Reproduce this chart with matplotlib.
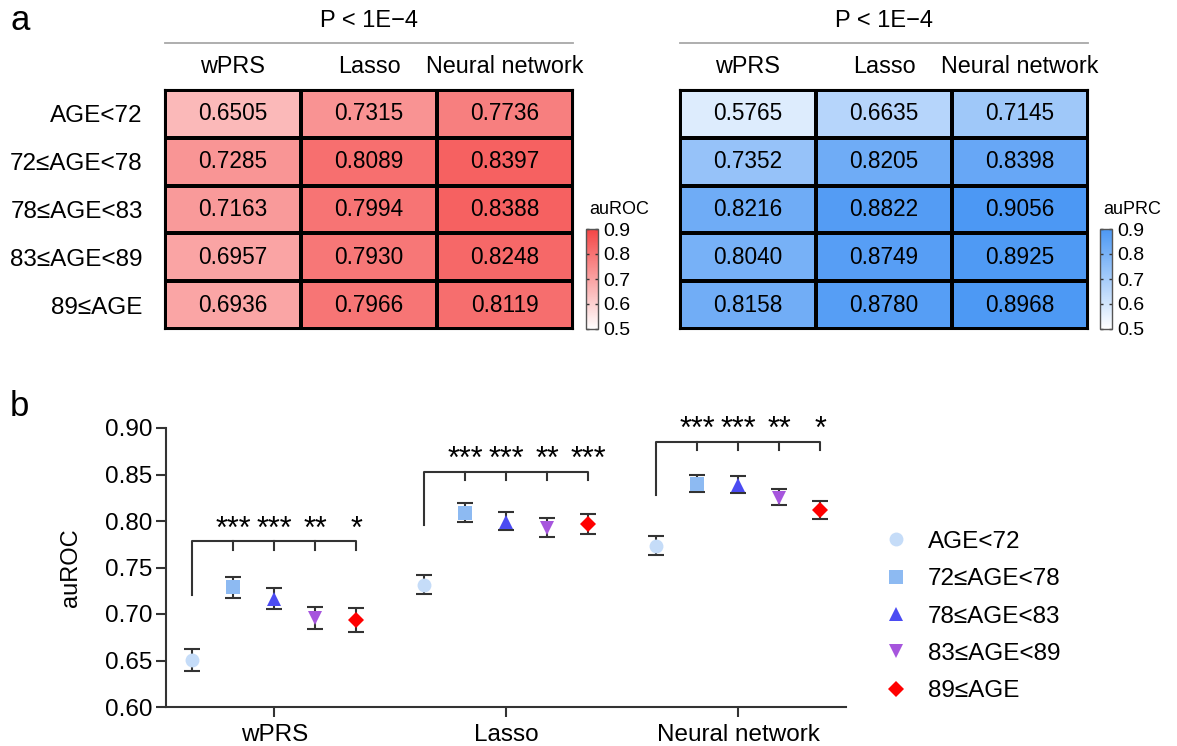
import matplotlib

matplotlib.use("Agg")

import matplotlib.pyplot as plt
import numpy as np
from matplotlib.colors import LinearSegmentedColormap
from matplotlib.lines import Line2D

plt.rcParams["font.family"] = ["Liberation Sans", "DejaVu Sans"]

GROUPS = ["AGE<72", "72≤AGE<78", "78≤AGE<83", "83≤AGE<89", "89≤AGE"]
MODELS = ["wPRS", "Lasso", "Neural network"]

# rows = age groups, columns = models
AUROC = [
    [0.6505, 0.7315, 0.7736],
    [0.7285, 0.8089, 0.8397],
    [0.7163, 0.7994, 0.8388],
    [0.6957, 0.7930, 0.8248],
    [0.6936, 0.7966, 0.8119],
]
AUPRC = [
    [0.5765, 0.6635, 0.7145],
    [0.7352, 0.8205, 0.8398],
    [0.8216, 0.8822, 0.9056],
    [0.8040, 0.8749, 0.8925],
    [0.8158, 0.8780, 0.8968],
]
HEAT_P = "P < 1E−4"

# error bar ends in panel b (rows = age groups, columns = models)
ERR_LO = [
    [0.639, 0.721, 0.763],
    [0.717, 0.799, 0.831],
    [0.705, 0.790, 0.830],
    [0.684, 0.783, 0.817],
    [0.681, 0.786, 0.802],
]
ERR_HI = [
    [0.662, 0.742, 0.784],
    [0.740, 0.819, 0.849],
    [0.728, 0.810, 0.848],
    [0.707, 0.803, 0.834],
    [0.706, 0.808, 0.822],
]
STARS = [
    ["***", "***", "**", "*"],
    ["***", "***", "**", "***"],
    ["***", "***", "**", "*"],
]
# bracket: horizontal level, left leg bottom
BRACKET_Y = [0.778, 0.853, 0.885]
BRACKET_LEG = [0.720, 0.796, 0.828]

COLORS = ["#C5DCF8", "#8DBAF2", "#4B4BF2", "#A655DD", "#FF0000"]
MARKERS = ["o", "s", "^", "v", "D"]
MSIZE = [10, 9.5, 10, 10, 8]

W, H = 1177, 746
fig = plt.figure(figsize=(W / 100, H / 100), dpi=100)


def fx(px):
    return px / W


def fy(py):
    return 1 - py / H


def heatmap(left_px, values, cmap, show_rows):
    ax = fig.add_axes([fx(left_px), fy(329), fx(408), 239 / H])
    data = np.array(values)
    mesh = ax.pcolormesh(data, cmap=cmap, vmin=0.5, vmax=0.9,
                         edgecolors="black", linewidth=1.5)
    ax.set_xlim(0, 3)
    ax.set_ylim(5, 0)
    for i in range(data.shape[0]):
        for j in range(data.shape[1]):
            ax.text(j + 0.5, i + 0.5, f"{data[i, j]:.4f}", ha="center",
                    va="center", fontsize=16.3)
    ax.set_xticks([])
    if show_rows:
        ax.set_yticks(np.arange(5) + 0.5)
        ax.set_yticklabels(GROUPS, fontsize=17.5)
        ax.tick_params(axis="y", length=0, pad=16)
    else:
        ax.set_yticks([])
    for s in ax.spines.values():
        s.set_linewidth(1.5)
    for j, m in enumerate(MODELS):
        ax.text((j + 0.5) / 3, 1.097, m, transform=ax.transAxes, ha="center",
                va="center", fontsize=16.8)
    ax.plot([0, 1], [1.197, 1.197], transform=ax.transAxes, color="#A8A8A8",
            lw=1.3, clip_on=False)
    ax.text(0.5, 1.29, HEAT_P, transform=ax.transAxes, ha="center",
            va="center", fontsize=17)
    return mesh


def colorbar(mesh, left_px, label):
    cax = fig.add_axes([fx(left_px), fy(329), fx(12), 100 / H])
    cb = fig.colorbar(mesh, cax=cax, ticks=[0.5, 0.6, 0.7, 0.8, 0.9])
    cb.outline.set_edgecolor("#555555")
    cb.outline.set_linewidth(1.0)
    cax.tick_params(direction="in", length=2.5, width=1.0, color="#333333",
                    left=True, right=True, labelsize=14, pad=4)
    cax.set_yticklabels(["0.5", "0.6", "0.7", "0.8", "0.9"])
    fig.text(fx(left_px + 3), fy(210), label, ha="left", va="center",
             fontsize=13)


reds = LinearSegmentedColormap.from_list("reds", ["#FFFFFF", "#F44545"])
blues = LinearSegmentedColormap.from_list("blues", ["#FFFFFF", "#4C98F4"])

m1 = heatmap(165, AUROC, reds, True)
m2 = heatmap(680, AUPRC, blues, False)
colorbar(m1, 586, "auROC")
colorbar(m2, 1100, "auPRC")

fig.text(fx(10), fy(20), "a", fontsize=25, va="center", ha="left")
fig.text(fx(10), fy(407), "b", fontsize=25, va="center", ha="left")

# panel b
ax = fig.add_axes([fx(166), fy(707), fx(680), 279 / H])
step = 0.177
lo = np.array(ERR_LO)
hi = np.array(ERR_HI)
vals = np.array(AUROC)
handles = []
for g in range(len(GROUPS)):
    xs = np.arange(len(MODELS)) + (g - 2) * step
    ys = vals[g]
    ax.errorbar(xs, ys, yerr=[ys - lo[g], hi[g] - ys], fmt="none",
                ecolor="#333333", elinewidth=1.5, capsize=6, capthick=1.5,
                zorder=2)
    ax.plot(xs, ys, linestyle="none", marker=MARKERS[g], ms=MSIZE[g],
            color=COLORS[g], markeredgewidth=0, zorder=3)
    handles.append(Line2D([], [], linestyle="none", marker=MARKERS[g],
                          ms=MSIZE[g], color=COLORS[g], markeredgewidth=0,
                          label=GROUPS[g]))

for m in range(len(MODELS)):
    xs = m + (np.arange(len(GROUPS)) - 2) * step
    yb = BRACKET_Y[m]
    tick = 0.009
    ax.plot([xs[0], xs[0], xs[-1], xs[-1]],
            [BRACKET_LEG[m], yb, yb, yb - tick], color="#333333", lw=1.5,
            clip_on=False)
    for k in range(1, len(GROUPS) - 1):
        ax.plot([xs[k], xs[k]], [yb, yb - tick], color="#333333", lw=1.5,
                clip_on=False)
    for k in range(1, len(GROUPS)):
        ax.text(xs[k], yb + 0.004, STARS[m][k - 1], ha="center",
                va="baseline", fontsize=22, clip_on=False)

ax.set_xlim(-0.467, 2.465)
ax.set_ylim(0.6, 0.9)
ax.set_yticks(np.arange(0.60, 0.901, 0.05))
ax.set_yticklabels([f"{v:.2f}" for v in np.arange(0.60, 0.901, 0.05)])
ax.set_xticks(range(len(MODELS)))
ax.set_xticklabels(MODELS)
ax.tick_params(axis="both", labelsize=17.5, width=1.5, length=7,
               color="#333333")
ax.tick_params(axis="y", pad=3)
ax.tick_params(axis="x", pad=5)
ax.set_ylabel("auROC", fontsize=17, labelpad=16)
ax.spines["top"].set_visible(False)
ax.spines["right"].set_visible(False)
for s in ("left", "bottom"):
    ax.spines[s].set_linewidth(1.5)
    ax.spines[s].set_color("#333333")

fig.legend(handles=handles, loc="upper left", bbox_to_anchor=(fx(860), fy(509)),
           frameon=False, fontsize=17.5, handletextpad=0.7, labelspacing=0.63,
           handlelength=1.2)

fig.savefig("out.png", dpi=100)
